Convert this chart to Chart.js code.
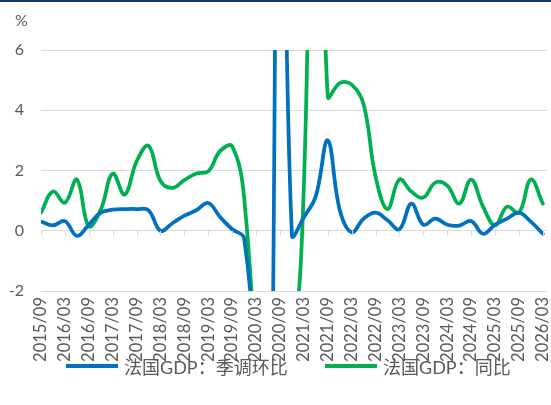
<!DOCTYPE html>
<html>
<head>
<meta charset="utf-8">
<script src="https://cdn.jsdelivr.net/npm/chart.js@4/dist/chart.umd.min.js"></script>
<style>
  html, body { margin: 0; padding: 0; background: #ffffff; }
  #wrap { position: relative; width: 551px; height: 405px; overflow: hidden;
          font-family: Lato, "Noto Sans CJK SC", sans-serif; color: #595959; }
  #topbar { position: absolute; left: 0; top: 0; width: 551px; height: 2px; background: #0c3a6b; }
  #unit { position: absolute; left: 15px; top: 10px; font-size: 16px; }
  canvas { position: absolute; left: 0; top: 0; }
  .lg-item { position: absolute; top: 355px; height: 22px; display: flex; align-items: center;
             font-size: 18px; white-space: nowrap; }
  .lg-swatch { display: inline-block; width: 52px; height: 4px; margin-right: 6px; }
</style>
</head>
<body>
<div id="wrap">
  <canvas id="chart" width="551" height="405"></canvas>
  <div id="topbar"></div>
  <div id="unit">%</div>
  <div id="legend"></div>
</div>
<script>
// Quarter-end dates (one per quarter)
const quarters = [
  "2015/09","2015/12","2016/03","2016/06","2016/09","2016/12",
  "2017/03","2017/06","2017/09","2017/12","2018/03","2018/06",
  "2018/09","2018/12","2019/03","2019/06","2019/09","2019/12",
  "2020/03","2020/06","2020/09","2020/12","2021/03","2021/06",
  "2021/09","2021/12","2022/03","2022/06","2022/09","2022/12",
  "2023/03","2023/06","2023/09","2023/12","2024/03","2024/06",
  "2024/09","2024/12","2025/03","2025/06","2025/09","2025/12",
  "2026/03"
];

// French GDP, seasonally adjusted quarter-on-quarter growth (%)
const gdpQoQ = [
  0.31, 0.18, 0.32, -0.17, 0.2, 0.6,
  0.7, 0.72, 0.72, 0.68, 0.0, 0.25,
  0.5, 0.68, 0.92, 0.45, 0.05, -0.25,
  -5.4, -13.5, 18.5, -0.15, 0.45, 1.15,
  3.0, 0.7, -0.05, 0.4, 0.6, 0.35,
  0.05, 0.9, 0.2, 0.4, 0.2, 0.17,
  0.32, -0.1, 0.2, 0.4, 0.6, 0.3,
  -0.1
];

// French GDP, year-on-year growth (%)
const gdpYoY = [
  0.6, 1.3, 0.93, 1.7, 0.15, 0.7,
  1.9, 1.2, 2.3, 2.82, 1.65, 1.42,
  1.68, 1.9, 1.97, 2.65, 2.8, 1.1,
  -5.5, -18.0, -3.6, -4.0, 1.5, 19.0,
  4.45, 4.9, 4.85, 4.2, 1.8, 0.72,
  1.7, 1.3, 1.1, 1.6, 1.5, 0.9,
  1.7, 0.8, 0.18, 0.8, 0.6, 1.7,
  0.9
];

const seriesNames = ["法国GDP：季调环比", "法国GDP：同比"];
const seriesColors = ["#0070c0", "#00b050"];
const yRange = { min: -2, max: 6, step: 2 };
const labelEvery = 2;   // one date label every half year

const toPoints = arr => arr.map((v, i) => ({ x: i, y: v }));

// Short tick marks hanging below the zero line
const zeroTicks = {
  id: 'zeroTicks',
  afterDatasetsDraw(chart) {
    const { ctx, scales: { x, y } } = chart;
    const y0 = y.getPixelForValue(0);
    ctx.save();
    ctx.strokeStyle = '#d9d9d9';
    ctx.lineWidth = 1;
    ctx.beginPath();
    x.ticks.forEach(t => {
      const px = Math.round(x.getPixelForValue(t.value)) + 0.5;
      ctx.moveTo(px, y0);
      ctx.lineTo(px, y0 + 5);
    });
    ctx.stroke();
    ctx.restore();
  }
};

const chart = new Chart(document.getElementById('chart'), {
  type: 'line',
  data: {
    datasets: [
      { label: seriesNames[0], data: toPoints(gdpQoQ), borderColor: seriesColors[0],
        backgroundColor: seriesColors[0] },
      { label: seriesNames[1], data: toPoints(gdpYoY), borderColor: seriesColors[1],
        backgroundColor: seriesColors[1] }
    ]
  },
  options: {
    responsive: false,
    animation: false,
    devicePixelRatio: 1,
    layout: { padding: { top: 50, left: 0, right: 4, bottom: 44 } },
    elements: {
      line: { borderWidth: 3.75, tension: 0.4, capBezierPoints: false, borderCapStyle: 'round' },
      point: { radius: 0, hoverRadius: 0 }
    },
    plugins: { legend: { display: false }, tooltip: { enabled: false } },
    scales: {
      x: {
        type: 'linear',
        min: 0,
        max: quarters.length - 1 + 0.35,
        grid: { display: false, drawTicks: false },
        border: { display: false },
        afterBuildTicks: s => {
          s.ticks = quarters.map((q, i) => ({ value: i })).filter(t => t.value % labelEvery === 0);
        },
        afterFit: s => { s.height = 70; s.paddingLeft = 0; s.paddingRight = 0; },
        ticks: {
          autoSkip: false,
          minRotation: 90,
          maxRotation: 90,
          padding: 6,
          color: '#595959',
          font: { family: 'Lato', size: 16.5 },
          callback: v => quarters[v]
        }
      },
      y: {
        min: yRange.min,
        max: yRange.max,
        grid: { color: '#d9d9d9', lineWidth: 1, drawTicks: false },
        border: { display: false },
        afterFit: s => { s.width = 41; },
        ticks: {
          stepSize: yRange.step,
          padding: 17,
          color: '#595959',
          font: { family: 'Lato', size: 16 }
        }
      }
    }
  },
  plugins: [zeroTicks]
});

// Legend built from the chart's datasets
const legendEl = document.getElementById('legend');
const legendLeft = [66, 325];
chart.data.datasets.forEach((ds, i) => {
  const item = document.createElement('div');
  item.className = 'lg-item';
  item.style.left = legendLeft[i] + 'px';
  const sw = document.createElement('span');
  sw.className = 'lg-swatch';
  sw.style.background = ds.borderColor;
  const txt = document.createElement('span');
  txt.textContent = ds.label;
  item.appendChild(sw);
  item.appendChild(txt);
  legendEl.appendChild(item);
});
</script>
</body>
</html>
